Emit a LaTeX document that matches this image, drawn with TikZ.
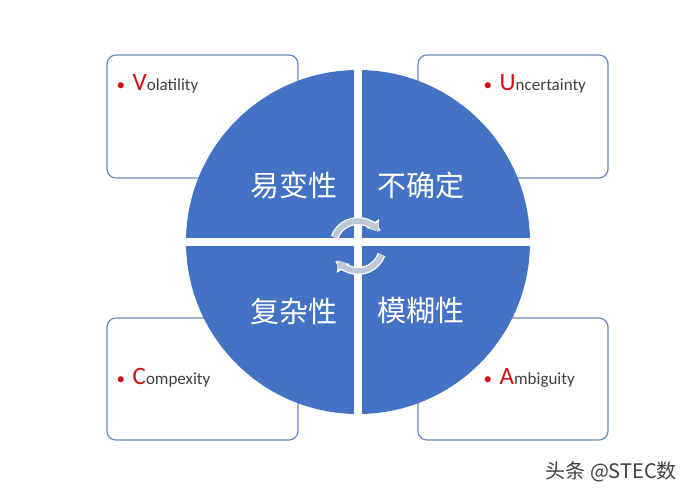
\documentclass[tikz,border=0pt]{standalone}
\usepackage{fontspec}
\setmainfont{Carlito}
\newfontfamily\cjk{Noto Sans CJK SC}
\usetikzlibrary{arrows.meta}
\definecolor{cblue}{HTML}{4472C4}
\definecolor{bord}{HTML}{6A8BC0}
\definecolor{ared}{HTML}{D01010}
\definecolor{tgray}{HTML}{404040}
\definecolor{agray}{HTML}{BFC8D6}
\begin{document}
\begin{tikzpicture}[x=1pt,y=-1pt,
  box/.style={draw=bord,line width=1.2pt,rounded corners=9pt,fill=white},
  cn/.style={font=\cjk\fontsize{29}{32}\selectfont,text=white},
  en/.style={font=\fontsize{17}{20}\selectfont,text=tgray,anchor=west}]
\useasboundingbox[fill=white] (0,0) rectangle (700,500);
\node[box,minimum width=191pt,minimum height=123pt] (b1) at (202.5,116.5) {};
\node[box,minimum width=190pt,minimum height=123pt] (b2) at (513,116.5) {};
\node[box,minimum width=191pt,minimum height=122pt] (b3) at (202.5,379) {};
\node[box,minimum width=190pt,minimum height=122pt] (b4) at (513,379) {};
\fill[cblue] (358,242) circle (172);
\fill[white] (354,60) rectangle (362,425);
\fill[white] (180,238) rectangle (540,246);
\node[cn] (c1) at (294,185) {易变性};
\node[cn] (c2) at (421,185) {不确定};
\node[cn] (c3) at (294,311) {复杂性};
\node[cn] (c4) at (421,311) {模糊性};
\node[en] (e1) at (113,84) {{\color{ared}\textbullet}\ \ {\color{ared}\fontsize{25}{26}\selectfont V}olatility};
\node[en] (e2) at (480,84) {{\color{ared}\textbullet}\ \ {\color{ared}\fontsize{25}{26}\selectfont U}ncertainty};
\node[en] (e3) at (113,378) {{\color{ared}\textbullet}\ \ {\color{ared}\fontsize{25}{26}\selectfont C}ompexity};
\node[en] (e4) at (480,378) {{\color{ared}\textbullet}\ \ {\color{ared}\fontsize{25}{26}\selectfont A}mbiguity};
\coordinate (ctr) at (358,246);
\foreach \a/\b in {200/325, 20/145}{
  \draw[white,line width=8pt,-{Triangle[length=10pt,width=15pt]}] ([shift={(\a:25)}]ctr) arc[start angle=\a,end angle=\b,radius=25];
  \draw[agray,line width=5.5pt,-{Triangle[length=8pt,width=11pt]}] ([shift={(\a:25)}]ctr) arc[start angle=\a,end angle=\b,radius=25];
}
\node[font=\cjk\fontsize{20}{22}\selectfont,text=tgray,anchor=west] (wm) at (542,472) {头条 @STEC数};
\end{tikzpicture}
\end{document}
